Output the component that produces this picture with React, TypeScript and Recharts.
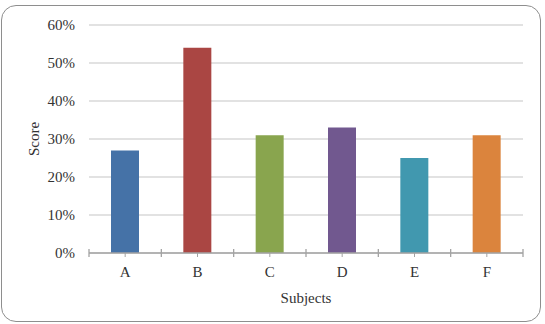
import React from 'react';
import { BarChart, Bar, Cell, XAxis, YAxis, CartesianGrid } from 'recharts';

const subjects = ['A', 'B', 'C', 'D', 'E', 'F'];
const scores = [27, 54, 31, 33, 25, 31];
const barColors = ['#4572A7', '#AA4643', '#89A54E', '#71588F', '#4198AF', '#DB843D'];
const yTicks = [0, 10, 20, 30, 40, 50, 60];

const data = subjects.map((s, i) => ({ subject: s, score: scores[i] }));

const FONT = '"Liberation Serif", serif';
const AXIS_GREY = '#A3A3A3';

// category label plus Excel-style tick marks at band edges
const SubjectTick = (props: any) => {
  const { x, y, payload, index, visibleTicksCount } = props;
  const half = payload.offset || 0;
  const isLast = index === visibleTicksCount - 1;
  return (
    <g>
      <line x1={x - half} x2={x - half} y1={y - 4} y2={y + 4} stroke={AXIS_GREY} strokeWidth={1.3} />
      {isLast && (
        <line x1={x + half} x2={x + half} y1={y - 4} y2={y + 4} stroke={AXIS_GREY} strokeWidth={1.3} />
      )}
      <line x1={x} x2={x} y1={y} y2={y + 4} stroke={AXIS_GREY} strokeWidth={1} />
      <text x={x} y={y + 24} textAnchor="middle" fill="#333" fontFamily={FONT} fontSize={15}>
        {payload.value}
      </text>
    </g>
  );
};

export default function App() {
  return (
    <div style={{ position: 'absolute', left: 0, top: 0, width: 545, height: 324, background: '#fff' }}>
      <div
        style={{
          position: 'absolute',
          left: 1,
          top: 5,
          width: 538,
          height: 315,
          border: '1.5px solid #8E8E8E',
          borderRadius: 15,
        }}
      />
      <div style={{ position: 'absolute', left: 0, top: 0 }}>
        <BarChart
          width={545}
          height={324}
          data={data}
          margin={{ top: 25, right: 22, left: 0, bottom: 0 }}
        >
          <CartesianGrid vertical={false} stroke="#C6C6C6" strokeWidth={1.2} />
          <XAxis
            dataKey="subject"
            height={71}
            tickSize={0}
            tickMargin={0}
            axisLine={{ stroke: AXIS_GREY, strokeWidth: 1.3 }}
            tickLine={false}
            tick={<SubjectTick />}
            interval={0}
            label={{
              value: 'Subjects',
              position: 'insideBottom',
              offset: 21,
              fill: '#333',
              fontFamily: FONT,
              fontSize: 15,
            }}
          />
          <YAxis
            width={89}
            domain={[0, 60]}
            ticks={yTicks}
            interval={0}
            axisLine={false}
            tickLine={false}
            tickSize={0}
            tickMargin={14}
            tickFormatter={(v) => `${v}%`}
            tick={{ fill: '#333', fontFamily: FONT, fontSize: 15 }}
            label={{
              value: 'Score',
              angle: -90,
              position: 'center',
              dx: -11,
              fill: '#333',
              fontFamily: FONT,
              fontSize: 15,
            }}
          />
          <Bar dataKey="score" barSize={28} isAnimationActive={false}>
            {data.map((d, i) => (
              <Cell key={d.subject} fill={barColors[i]} />
            ))}
          </Bar>
        </BarChart>
      </div>
    </div>
  );
}
